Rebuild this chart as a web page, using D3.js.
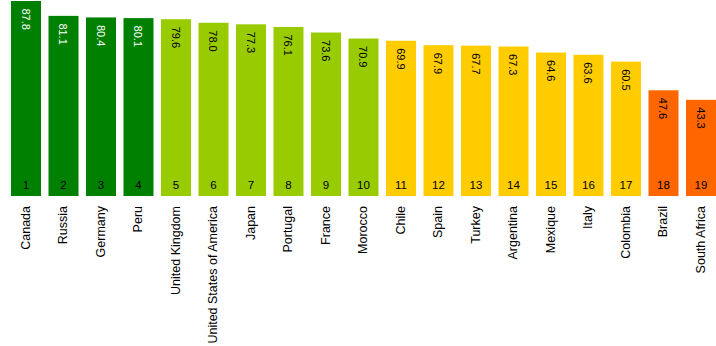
<!DOCTYPE html>
<html><head><meta charset="utf-8">
<script src="https://cdn.jsdelivr.net/npm/d3@7"></script>
<style>body{margin:0;background:#fff}svg{display:block}text{font-family:"Liberation Sans",Arial,sans-serif}</style>
</head><body>
<svg id="c" width="716" height="346"></svg>
<script>
const countries = ["Canada","Russia","Germany","Peru","United Kingdom","United States of America","Japan","Portugal","France","Morocco","Chile","Spain","Turkey","Argentina","Mexique","Italy","Colombia","Brazil","South Africa"];
const values = [87.8,81.1,80.4,80.1,79.6,78.0,77.3,76.1,73.6,70.9,69.9,67.9,67.7,67.3,64.6,63.6,60.5,47.6,43.3];
const ranks = ["1","2","3","4","5","6","7","8","9","10","11","12","13","14","15","16","17","18","19"];
const groups = ["top","top","top","top","high","high","high","high","high","high","mid","mid","mid","mid","mid","mid","mid","low","low"];
const groupColors = {top:"#008000", high:"#99cc00", mid:"#ffcc00", low:"#ff6600"};
const labelColors = {top:"#ffffff", high:"#000000", mid:"#000000", low:"#000000"};

const svg = d3.select("#c");
const x = d3.scaleBand().domain(countries).range([7.25, 719.75]).paddingInner(0.2).paddingOuter(0.1);
const y = d3.scaleLinear().domain([0, 87.8]).range([196, 1]);

const data = countries.map((c,i)=>({c, v:values[i], r:ranks[i], g:groups[i]}));

svg.selectAll("rect.bar").data(data).join("rect")
  .attr("x", d=>x(d.c)).attr("width", x.bandwidth())
  .attr("y", d=>y(d.v)).attr("height", d=>y(0)-y(d.v))
  .attr("fill", d=>groupColors[d.g]);

// value labels
svg.selectAll("text.val").data(data).join("text")
  .attr("transform", d=>`translate(${x(d.c)+x.bandwidth()/2},${y(d.v)+7.5}) rotate(90)`)
  .attr("dy","0.38em").attr("text-anchor","start")
  .attr("font-size", 11).attr("fill", d=>labelColors[d.g])
  .text(d=>d.v.toFixed(1));

// rank labels
svg.selectAll("text.rank").data(data).join("text")
  .attr("x", d=>x(d.c)+x.bandwidth()/2).attr("y", 189)
  .attr("text-anchor","middle").attr("font-size", 11.5).attr("fill","#000")
  .text(d=>d.r);

// axis labels
const ax = svg.append("g").attr("transform","translate(0,196)")
  .call(d3.axisBottom(x).tickSize(0).tickPadding(0));
ax.select(".domain").remove();
ax.selectAll("text")
  .attr("font-size", 12.5).attr("font-family","Liberation Sans, Arial, sans-serif").attr("fill","#000")
  .attr("text-anchor","end")
  .attr("transform","rotate(-90)")
  .attr("x", -10).attr("y", 0).attr("dy","0.3em");
</script>
</body></html>
